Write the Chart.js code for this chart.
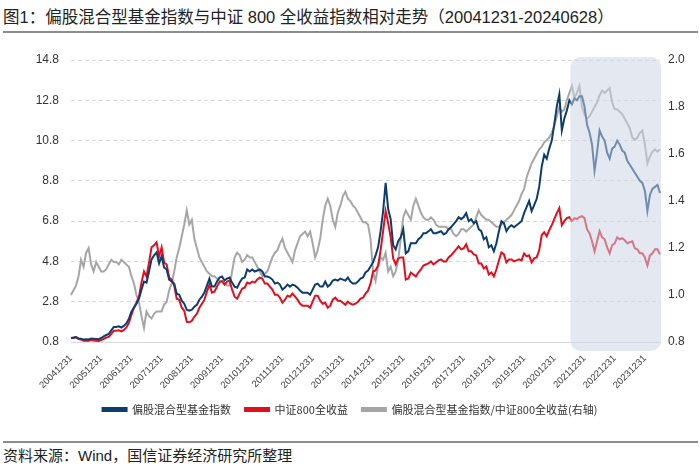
<!DOCTYPE html>
<html>
<head>
<meta charset="utf-8">
<script src="https://cdn.jsdelivr.net/npm/chart.js@4.4.1/dist/chart.umd.min.js"></script>
<style>
body{margin:0;background:#fff;width:700px;height:466px;overflow:hidden;font-family:"Liberation Sans","Noto Sans CJK SC",sans-serif;color:#222}
#title{position:absolute;left:3px;top:7px;font-size:16.5px;line-height:20px;white-space:nowrap}
#rule1{position:absolute;left:3px;right:2px;top:31px;border-top:2px solid #8c8c8c}
#wrap{position:absolute;left:0;top:36px;width:700px;height:389px}
#rule2{position:absolute;left:3px;right:2px;top:441px;border-top:2px solid #8c8c8c}
#src{position:absolute;left:3px;top:447px;font-size:15px;line-height:18px;white-space:nowrap}
</style>
</head>
<body>
<div id="title">图1：偏股混合型基金指数与中证 800 全收益指数相对走势（20041231-20240628）</div>
<div id="rule1"></div>
<div id="wrap"><canvas id="myChart"></canvas></div>
<div id="rule2"></div>
<div id="src">资料来源：Wind，国信证券经济研究所整理</div>
<script>
// monthly points, 20041231 .. 20240628
var fundIndex = [1.00,
  1.02,1.05,0.98,0.96,0.92,0.94,0.93,0.97,0.96,0.95,0.94,1.00,
  1.08,1.15,1.20,1.38,1.55,1.55,1.58,1.52,1.60,1.72,1.95,2.30,
  2.50,2.70,2.95,3.40,3.80,3.75,4.30,4.90,5.10,5.25,4.70,5.05,
  4.50,4.40,3.90,3.80,3.70,3.20,3.15,2.85,2.70,2.40,2.35,2.40,
  2.55,2.65,2.90,3.05,3.25,3.60,3.95,3.55,3.55,3.80,4.00,4.05,
  3.85,3.95,4.00,3.75,3.55,3.50,3.75,3.95,4.00,4.40,4.30,4.40,
  4.30,4.35,4.40,4.30,4.05,4.05,4.00,3.90,3.70,3.75,3.65,3.40,
  3.50,3.65,3.55,3.65,3.60,3.50,3.35,3.25,3.25,3.25,3.15,3.40,
  3.65,3.70,3.55,3.55,3.80,3.55,3.65,3.85,3.90,3.85,3.95,3.90,
  3.85,4.00,3.80,3.70,3.70,3.80,3.95,4.00,4.25,4.35,4.55,4.75,
  5.10,5.50,6.30,7.30,8.70,7.40,6.90,5.60,5.40,5.80,6.00,6.40,
  5.20,5.30,5.70,5.70,5.70,5.90,6.00,6.20,6.20,6.30,6.40,6.20,
  6.20,6.25,6.30,6.15,6.20,6.40,6.50,6.65,6.80,7.00,6.90,7.00,
  7.20,6.80,6.90,6.70,6.80,6.40,6.30,5.90,6.00,5.50,5.60,5.30,
  5.70,6.30,6.80,6.70,6.30,6.50,6.60,6.50,6.60,6.70,6.80,7.20,
  7.50,7.80,7.30,7.60,7.90,8.50,9.50,10.10,9.90,10.40,10.80,11.60,
  12.50,13.10,11.30,11.90,12.30,12.80,12.60,12.90,12.80,13.00,13.00,12.50,
  11.60,11.20,10.60,9.30,10.20,11.30,11.00,10.80,10.20,9.90,10.40,10.50,
  10.80,10.60,10.30,10.20,9.80,9.60,9.40,9.20,9.00,8.80,8.70,8.30,
  7.30,8.10,8.40,8.50,8.60,8.20];

var csi800 = [1.00,
  1.00,1.03,0.95,0.92,0.86,0.87,0.86,0.90,0.88,0.86,0.85,0.90,
  0.96,1.02,1.05,1.20,1.36,1.36,1.38,1.33,1.40,1.52,1.75,2.15,
  2.50,2.75,3.05,3.75,4.30,4.05,4.75,5.50,5.60,5.75,5.05,5.50,
  4.75,4.65,4.00,3.90,3.60,2.95,2.90,2.50,2.35,1.80,1.78,1.85,
  2.05,2.20,2.50,2.70,2.90,3.30,3.65,3.25,3.30,3.55,3.78,3.82,
  3.65,3.80,3.85,3.40,3.05,2.95,3.20,3.45,3.50,3.75,3.70,3.80,
  3.75,3.90,4.00,3.95,3.70,3.70,3.55,3.40,3.15,3.15,3.00,2.75,
  2.90,3.10,3.05,3.20,3.05,2.90,2.70,2.60,2.60,2.60,2.50,2.80,
  3.10,3.10,2.85,2.70,2.75,2.50,2.60,2.90,3.00,2.85,2.85,2.75,
  2.65,2.80,2.70,2.65,2.70,2.80,2.95,3.00,3.20,3.35,3.70,4.30,
  4.35,4.60,5.35,6.30,7.30,6.70,6.00,4.95,4.65,4.95,5.00,5.00,
  3.90,3.95,4.25,4.15,4.05,4.25,4.40,4.60,4.65,4.70,4.80,4.65,
  4.75,4.85,4.90,4.80,4.80,5.00,5.10,5.25,5.40,5.55,5.40,5.45,
  5.65,5.30,5.30,5.15,5.10,4.70,4.70,4.45,4.55,4.15,4.25,4.05,
  4.40,4.85,5.25,5.15,4.75,4.90,4.90,4.80,4.85,4.90,4.85,5.20,
  5.05,5.10,4.75,4.95,5.00,5.35,6.10,6.25,6.05,6.35,6.60,6.90,
  7.20,7.45,6.60,6.80,6.95,7.00,6.80,6.95,6.90,7.00,7.05,6.95,
  6.40,6.20,5.80,5.30,5.80,6.30,6.00,5.90,5.50,5.20,5.60,5.70,
  6.00,5.90,5.95,5.85,5.70,5.75,5.80,5.45,5.40,5.20,5.20,5.00,
  4.60,5.10,5.20,5.40,5.40,5.15];

var ratio = [1.00,
  1.02,1.04,1.08,1.15,1.12,1.18,1.20,1.13,1.10,1.14,1.12,1.10,
  1.10,1.11,1.13,1.15,1.14,1.14,1.13,1.15,1.14,1.13,1.12,1.08,
  1.05,1.00,0.97,0.91,0.86,0.93,0.91,0.90,0.92,0.93,0.93,0.93,
  0.96,0.97,1.02,1.05,1.10,1.16,1.20,1.25,1.30,1.36,1.30,1.32,
  1.24,1.20,1.16,1.14,1.12,1.10,1.09,1.08,1.08,1.07,1.06,1.06,
  1.05,1.04,1.04,1.10,1.16,1.18,1.17,1.14,1.15,1.17,1.16,1.16,
  1.14,1.12,1.10,1.08,1.09,1.10,1.13,1.16,1.18,1.19,1.22,1.24,
  1.20,1.18,1.16,1.14,1.19,1.22,1.25,1.26,1.27,1.25,1.27,1.22,
  1.16,1.19,1.24,1.32,1.38,1.41,1.38,1.32,1.29,1.35,1.38,1.42,
  1.44,1.41,1.40,1.38,1.37,1.35,1.33,1.31,1.31,1.30,1.24,1.10,
  1.06,1.12,1.16,1.15,1.18,1.10,1.12,1.08,1.10,1.15,1.24,1.33,
  1.36,1.34,1.32,1.38,1.41,1.38,1.35,1.33,1.32,1.32,1.33,1.32,
  1.30,1.29,1.29,1.29,1.29,1.28,1.28,1.26,1.25,1.26,1.28,1.28,
  1.27,1.28,1.29,1.30,1.33,1.36,1.34,1.33,1.32,1.32,1.31,1.30,
  1.29,1.29,1.30,1.31,1.32,1.33,1.34,1.36,1.38,1.40,1.43,1.45,
  1.50,1.53,1.56,1.58,1.60,1.62,1.63,1.65,1.66,1.67,1.69,1.72,
  1.76,1.80,1.78,1.79,1.83,1.86,1.89,1.84,1.86,1.89,1.80,1.77,
  1.75,1.76,1.78,1.80,1.82,1.85,1.87,1.86,1.87,1.88,1.82,1.79,
  1.79,1.78,1.77,1.75,1.73,1.71,1.67,1.66,1.67,1.69,1.70,1.64,
  1.56,1.59,1.61,1.62,1.61,1.62];

var seriesNames = ['偏股混合型基金指数', '中证800全收益', '偏股混合型基金指数/中证800全收益(右轴)'];
var seriesColors = ['#0d3d6e', '#e00f1f', '#a6a6a6'];
var monthEnds = ['0131','0228','0331','0430','0531','0630','0731','0831','0930','1031','1130','1231'];
var shadeFrom = '20210630';

var labels = ['20041231'];
for (var y = 2005; y <= 2024; y++) {
  for (var m = 0; m < 12; m++) {
    if (y == 2024 && m > 5) break;
    labels.push(y + monthEnds[m]);
  }
}
labels[labels.length - 1] = '20240628';

// translucent panel over the recent period
var shadePlugin = {
  id: 'shade',
  afterDatasetsDraw: function(chart) {
    var ctx = chart.ctx, area = chart.chartArea;
    var left = chart.scales.x.getPixelForValue(labels.indexOf(shadeFrom)) + 1;
    ctx.save();
    ctx.fillStyle = 'rgba(202,211,228,0.53)';
    ctx.beginPath();
    ctx.roundRect(left, area.top - 3, area.right + 1 - left, area.bottom - area.top + 12, 10);
    ctx.fill();
    ctx.restore();
  }
};

var chart = new Chart('myChart', {
  type: 'line',
  data: {
    labels: labels,
    datasets: [
      {label: seriesNames[0], data: fundIndex, borderColor: seriesColors[0], backgroundColor: seriesColors[0], yAxisID: 'y'},
      {label: seriesNames[1], data: csi800, borderColor: seriesColors[1], backgroundColor: seriesColors[1], yAxisID: 'y'},
      {label: seriesNames[2], data: ratio, borderColor: seriesColors[2], backgroundColor: seriesColors[2], yAxisID: 'y1'}
    ]
  },
  options: {
    responsive: true,
    maintainAspectRatio: false,
    animation: false,
    elements: {
      point: {radius: 0},
      line: {borderWidth: 2, tension: 0}
    },
    layout: {padding: {top: 24, bottom: 0}},
    plugins: {
      legend: {
        position: 'bottom',
        labels: {
          boxWidth: 24,
          boxHeight: 3,
          padding: 14,
          color: '#333',
          font: {family: '"Noto Sans CJK SC"', size: 11}
        }
      },
      tooltip: {enabled: false}
    },
    scales: {
      x: {
        grid: {display: false},
        border: {display: true, color: '#d9d9d9'},
        ticks: {
          autoSkip: false,
          maxRotation: 45,
          minRotation: 45,
          color: '#404040',
          font: {family: '"Liberation Sans"', size: 9.5},
          callback: function(v) {
            var l = this.getLabelForValue(v);
            return l.slice(4) == '1231' ? l : null;
          }
        },
        afterFit: function(s) { s.height = 48; }
      },
      y: {
        position: 'left',
        min: 0.8,
        max: 14.8,
        grid: {color: '#d9d9d9', drawTicks: false},
        border: {display: false, dash: [4, 3]},
        ticks: {
          stepSize: 2,
          padding: 12,
          color: '#333',
          font: {family: '"Liberation Sans"', size: 12},
          callback: function(v) { return v.toFixed(1); }
        },
        afterFit: function(s) { s.width = 71; }
      },
      y1: {
        position: 'right',
        min: 0.8,
        max: 2.0,
        grid: {display: false, drawTicks: false},
        border: {display: false},
        ticks: {
          stepSize: 0.2,
          padding: 8,
          color: '#333',
          font: {family: '"Liberation Sans"', size: 12},
          callback: function(v) { return v.toFixed(1); }
        },
        afterFit: function(s) { s.width = 40; }
      }
    }
  },
  plugins: [shadePlugin]
});
</script>
</body>
</html>
